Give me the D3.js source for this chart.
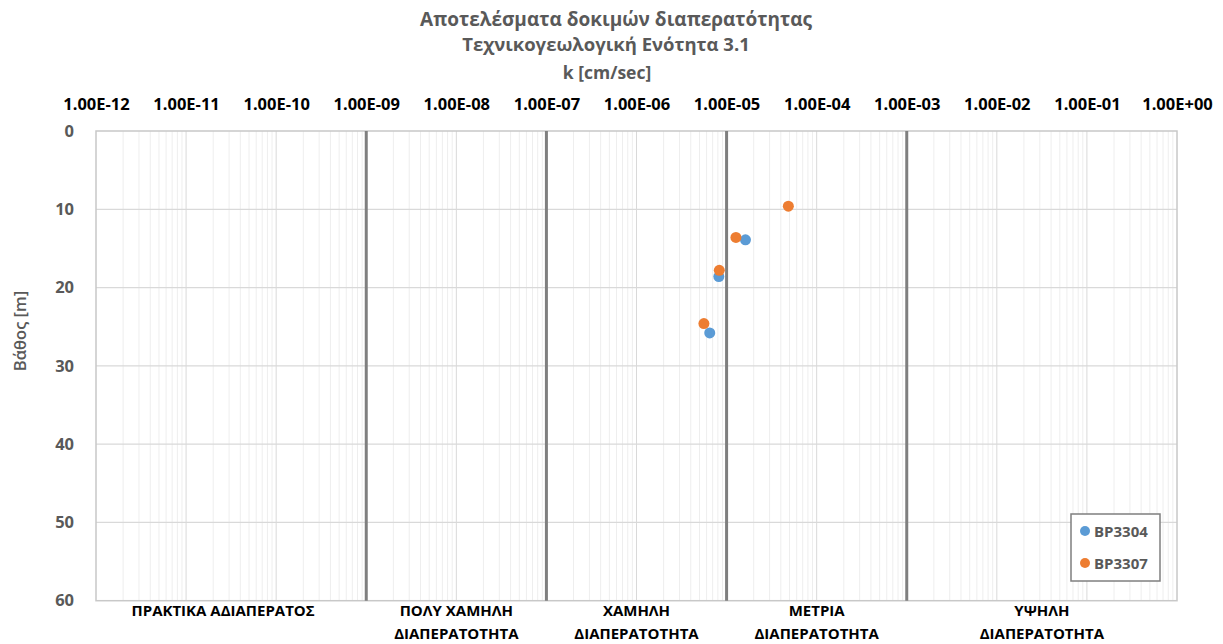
<!DOCTYPE html>
<html>
<head>
<meta charset="utf-8">
<script src="https://cdn.jsdelivr.net/npm/d3@7"></script>
<style>
  html, body { margin: 0; padding: 0; background: #ffffff; }
  svg { display: block; font-family: "Open Sans", "Noto Sans", sans-serif; }
</style>
</head>
<body>
<svg id="chart" width="1223" height="644"></svg>
<script>
// Title lines
const titleLines = ["Αποτελέσματα δοκιμών διαπερατότητας", "Τεχνικογεωλογική Ενότητα 3.1"];
const xAxisTitle = "k [cm/sec]";
const yAxisTitle = "Βάθος [m]";

// Permeability axis: decades and their labels
const kTicks = [1e-12, 1e-11, 1e-10, 1e-9, 1e-8, 1e-7, 1e-6, 1e-5, 1e-4, 1e-3, 1e-2, 1e-1, 1e0];
const kTickLabels = ["1.00E-12", "1.00E-11", "1.00E-10", "1.00E-09", "1.00E-08", "1.00E-07",
                     "1.00E-06", "1.00E-05", "1.00E-04", "1.00E-03", "1.00E-02", "1.00E-01", "1.00E+00"];

// Depth axis
const depthTicks = [0, 10, 20, 30, 40, 50, 60];

// Permeability class boundaries and class names
const zoneBounds = [1e-9, 1e-7, 1e-5, 1e-3];
const zoneFrom = [1e-12, 1e-9, 1e-7, 1e-5, 1e-3];
const zoneTo = [1e-9, 1e-7, 1e-5, 1e-3, 1e0];
const zoneLine1 = ["ΠΡΑΚΤΙΚΑ ΑΔΙΑΠΕΡΑΤΟΣ", "ΠΟΛΥ ΧΑΜΗΛΗ", "ΧΑΜΗΛΗ", "ΜΕΤΡΙΑ", "ΥΨΗΛΗ"];
const zoneLine2 = ["", "ΔΙΑΠΕΡΑΤΟΤΗΤΑ", "ΔΙΑΠΕΡΑΤΟΤΗΤΑ", "ΔΙΑΠΕΡΑΤΟΤΗΤΑ", "ΔΙΑΠΕΡΑΤΟΤΗΤΑ"];

// Test results per borehole
const seriesNames = ["BP3304", "BP3307"];
const seriesColors = ["#5B9BD5", "#ED7D31"];
const bp3304K = [1.62e-5, 8.2e-6, 6.5e-6];
const bp3304Depth = [13.9, 18.6, 25.8];
const bp3307K = [4.85e-5, 1.27e-5, 8.3e-6, 5.6e-6];
const bp3307Depth = [9.6, 13.6, 17.8, 24.6];

const series = [
  { name: seriesNames[0], color: seriesColors[0], pts: bp3304K.map((k, i) => ({ k, d: bp3304Depth[i] })) },
  { name: seriesNames[1], color: seriesColors[1], pts: bp3307K.map((k, i) => ({ k, d: bp3307Depth[i] })) }
];

const svg = d3.select("#chart");
const plot = { left: 96, right: 1177, top: 131, bottom: 600.7 };

const x = d3.scaleLog().domain([1e-12, 1]).range([plot.left, plot.right]);
const y = d3.scaleLinear().domain([0, 60]).range([plot.top, plot.bottom]);

// Minor vertical gridlines (2..9 within each decade)
const minorK = [];
for (let e = -12; e < 0; e++) {
  for (let m = 2; m <= 9; m++) minorK.push(m * Math.pow(10, e));
}
svg.append("g").selectAll("line").data(minorK).join("line")
  .attr("x1", d => x(d)).attr("x2", d => x(d))
  .attr("y1", plot.top).attr("y2", plot.bottom)
  .attr("stroke", "#eeeeee").attr("stroke-width", 1);

// Decade gridlines
svg.append("g").selectAll("line").data(kTicks.slice(1, -1)).join("line")
  .attr("x1", d => x(d)).attr("x2", d => x(d))
  .attr("y1", plot.top).attr("y2", plot.bottom)
  .attr("stroke", "#d9d9d9").attr("stroke-width", 1);

// Horizontal depth gridlines
svg.append("g").selectAll("line").data(depthTicks.slice(1, -1)).join("line")
  .attr("x1", plot.left).attr("x2", plot.right)
  .attr("y1", d => y(d)).attr("y2", d => y(d))
  .attr("stroke", "#d9d9d9").attr("stroke-width", 1.3);

// Plot frame
svg.append("rect")
  .attr("x", plot.left).attr("y", plot.top)
  .attr("width", plot.right - plot.left).attr("height", plot.bottom - plot.top)
  .attr("fill", "none").attr("stroke", "#c8c8c8").attr("stroke-width", 1.5);

// Class boundaries
svg.append("g").selectAll("line").data(zoneBounds).join("line")
  .attr("x1", d => x(d)).attr("x2", d => x(d))
  .attr("y1", plot.top).attr("y2", plot.bottom)
  .attr("stroke", "#7f7f7f").attr("stroke-width", 3);

// Top permeability axis labels
const topAxis = d3.axisTop(x).tickValues(kTicks).tickFormat((d, i) => kTickLabels[i]).tickSize(0);
const gTop = svg.append("g").attr("transform", `translate(0,${plot.top - 18})`).call(topAxis);
gTop.select(".domain").remove();
gTop.selectAll("text")
  .attr("font-family", "'Open Sans', sans-serif")
  .attr("font-size", 16.5).attr("font-weight", "bold").attr("fill", "#000000");

// Left depth axis labels
const leftAxis = d3.axisLeft(y).tickValues(depthTicks).tickSize(0);
const gLeft = svg.append("g").attr("transform", `translate(${plot.left - 19},0)`).call(leftAxis);
gLeft.select(".domain").remove();
gLeft.selectAll("text")
  .attr("font-family", "'Open Sans', sans-serif")
  .attr("font-size", 16.5).attr("font-weight", "bold").attr("fill", "#595959");

// Titles
const title = svg.append("g").attr("text-anchor", "middle")
  .attr("font-weight", "bold").attr("fill", "#595959");
title.append("text").attr("x", 616).attr("y", 26).attr("font-size", 19).text(titleLines[0]);
title.append("text").attr("x", 606).attr("y", 51).attr("font-size", 18.5).text(titleLines[1]);
title.append("text").attr("x", 607).attr("y", 79).attr("font-size", 17.5).text(xAxisTitle);

svg.append("text")
  .attr("transform", `translate(26,331) rotate(-90)`)
  .attr("text-anchor", "middle").attr("font-size", 16.5).attr("font-weight", 600).attr("fill", "#595959")
  .text(yAxisTitle);

// Class names under the plot
const zoneMid = zoneFrom.map((f, i) => Math.sqrt(f * zoneTo[i]));
const zoneG = svg.append("g").attr("text-anchor", "middle")
  .attr("font-weight", "bold").attr("font-size", 15).attr("fill", "#000000");
zoneG.selectAll("text.l1").data(zoneLine1).join("text").attr("class", "l1")
  .attr("x", (d, i) => x(zoneMid[i]) - (i === 0 ? 8 : 0)).attr("y", 616).text(d => d);
zoneG.selectAll("text.l2").data(zoneLine2).join("text").attr("class", "l2")
  .attr("x", (d, i) => x(zoneMid[i])).attr("y", 639).text(d => d);

// Data points
series.forEach(s => {
  svg.append("g").selectAll("circle").data(s.pts).join("circle")
    .attr("cx", d => x(d.k)).attr("cy", d => y(d.d)).attr("r", 5.5)
    .attr("fill", s.color);
});

// Legend
const lg = svg.append("g");
lg.append("rect").attr("x", 1071).attr("y", 514).attr("width", 89).attr("height", 67)
  .attr("fill", "#ffffff").attr("stroke", "#7f7f7f").attr("stroke-width", 1.5);
series.forEach((s, i) => {
  const cy = 531 + i * 32;
  lg.append("circle").attr("cx", 1085).attr("cy", cy).attr("r", 5).attr("fill", s.color);
  lg.append("text").attr("x", 1094).attr("y", cy + 5.5).attr("font-size", 15)
    .attr("font-weight", "bold").attr("fill", "#595959").text(s.name);
});
</script>
</body>
</html>
